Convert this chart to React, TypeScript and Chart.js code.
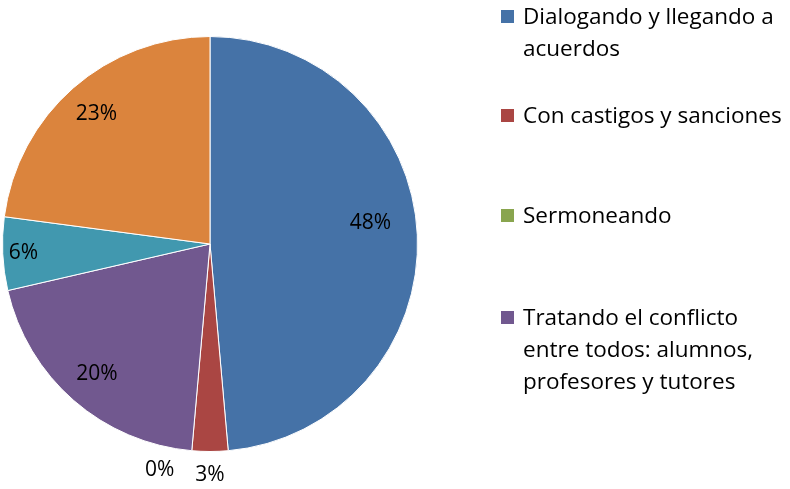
import React, { useEffect, useRef } from "react";
import { Chart, registerables } from "chart.js";

Chart.register(...registerables);

const categories = [
  "Dialogando y llegando a acuerdos",
  "Con castigos y sanciones",
  "Sermoneando",
  "Tratando el conflicto entre todos: alumnos, profesores y tutores",
  "Otros",
  "No sabe",
];
const legendLines = [
  ["Dialogando y llegando a", "acuerdos"],
  ["Con castigos y sanciones"],
  ["Sermoneando"],
  ["Tratando el conflicto", "entre todos: alumnos,", "profesores y tutores"],
];
const values = [48.6, 2.8, 0, 20, 5.7, 22.9];
const percentLabels = ["48%", "3%", "0%", "20%", "6%", "23%"];
const colors = ["#4572A7", "#AA4643", "#89A54E", "#71588F", "#4198AF", "#DB843D"];

const FONT = "'Open Sans', Lato, sans-serif";

const labelPlugin = {
  id: "pctLabels",
  afterDatasetsDraw(chart: any) {
    const ctx = chart.ctx;
    const meta = chart.getDatasetMeta(0);
    ctx.save();
    ctx.fillStyle = "#000";
    ctx.font = `21px ${FONT}`;
    ctx.textAlign = "center";
    ctx.textBaseline = "middle";
    meta.data.forEach((arc: any, i: number) => {
      const { x, y, startAngle, endAngle, outerRadius } = arc.getProps(
        ["x", "y", "startAngle", "endAngle", "outerRadius"],
        true
      );
      let mid = (startAngle + endAngle) / 2;
      const v = values[i];
      let dist: number;
      if (v < 4) {
        dist = outerRadius + 24;
        if (v === 0) mid += (7.5 * Math.PI) / 180;
      } else if (v < 10) {
        dist = outerRadius * 0.9;
      } else if (v > 40) {
        dist = outerRadius * 0.78;
        mid -= (5 * Math.PI) / 180;
      } else {
        dist = outerRadius * 0.83;
      }
      ctx.fillText(percentLabels[i], x + Math.cos(mid) * dist, y + Math.sin(mid) * dist);
    });
    ctx.restore();
  },
};

export default function App() {
  const ref = useRef<HTMLCanvasElement>(null);
  useEffect(() => {
    document.body.style.margin = "0";
    const chart = new Chart(ref.current!, {
      type: "pie",
      data: {
        labels: categories,
        datasets: [
          {
            data: values,
            backgroundColor: colors,
            borderColor: "#ffffff",
            borderWidth: 1,
          },
        ],
      },
      options: {
        animation: false,
        responsive: false,
        maintainAspectRatio: false,
        layout: { padding: { left: 2, right: 372, top: 36, bottom: 37 } },
        plugins: { legend: { display: false }, tooltip: { enabled: false } },
      },
      plugins: [labelPlugin],
    });
    return () => chart.destroy();
  }, []);

  const legendTops = [0, 99, 199, 301];
  return (
    <div style={{ position: "relative", width: 790, height: 489, background: "#fff" }}>
      <canvas ref={ref} width={790} height={489} style={{ position: "absolute", left: 0, top: 0 }} />
      {legendLines.map((lines, i) => (
        <div
          key={i}
          style={{
            position: "absolute",
            left: 501,
            top: legendTops[i],
            fontFamily: FONT,
            fontSize: 22.5,
            lineHeight: "32px",
            color: "#000",
          }}
        >
          <span
            style={{
              position: "absolute",
              left: 0,
              top: 10,
              width: 13,
              height: 13,
              background: colors[i],
            }}
          />
          <div style={{ marginLeft: 22, whiteSpace: "nowrap" }}>
            {lines.map((l, j) => (
              <div key={j}>{l}</div>
            ))}
          </div>
        </div>
      ))}
    </div>
  );
}
